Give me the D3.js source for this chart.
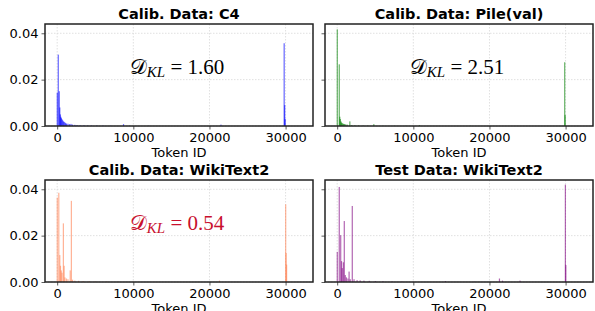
<!DOCTYPE html>
<html>
<head>
<meta charset="utf-8">
<script src="https://cdn.jsdelivr.net/npm/d3@7"></script>
<style>
  body { margin: 0; background: #fff; }
  svg { display: block; font-family: "DejaVu Sans", sans-serif; }
  .grid line { stroke: #d8d8d8; stroke-dasharray: 1.5,1.5; stroke-width: 0.8; }
  .tick text { font-size: 13px; fill: #000; }
</style>
</head>
<body>
<svg width="595" height="311"></svg>
<script>
// token id / frequency pairs
const c4Bins = [
  [0, 0.0144], [130, 0.0308], [260, 0.015], [330, 0.008], [400, 0.005], [460, 0.004],
  [520, 0.0035], [600, 0.003], [700, 0.0025], [800, 0.002], [900, 0.0018], [1000, 0.0015],
  [1100, 0.0012], [1200, 0.001], [1400, 0.001], [1600, 0.0008], [1800, 0.0009], [2000, 0.0006],
  [2300, 0.0005], [2600, 0.0004], [3000, 0.0003], [3500, 0.0003], [4000, 0.0002], [4500, 0.0002],
  [5200, 0.0002], [6000, 0.00015], [7000, 0.0001], [8700, 0.0008], [9500, 0.0001], [12000, 0.0001],
  [21500, 0.0006], [29800, 0.0357], [29870, 0.009], [29930, 0.003]
];
const pileBins = [
  [0, 0.0417], [260, 0.0266], [330, 0.004], [400, 0.003], [480, 0.002], [560, 0.0015],
  [650, 0.0012], [750, 0.001], [850, 0.0009], [950, 0.0008], [1100, 0.0007], [1300, 0.0006],
  [1650, 0.002], [1900, 0.0004], [2300, 0.0003], [2800, 0.0002], [3400, 0.0002], [4000, 0.00015],
  [4800, 0.0008], [6000, 0.0001], [7500, 0.0001], [9000, 0.0001], [10800, 0.0004], [17500, 0.0001],
  [29870, 0.0275], [29930, 0.0047]
];
const wikiCalibBins = [
  [0, 0.0364], [200, 0.0385], [330, 0.0116], [420, 0.007], [520, 0.005], [620, 0.004],
  [800, 0.0253], [900, 0.007], [1000, 0.002], [1200, 0.0015], [1400, 0.0012], [1700, 0.005],
  [1850, 0.035], [2000, 0.001], [2300, 0.0006], [2800, 0.0005], [3400, 0.0004], [4200, 0.0003],
  [5000, 0.0002], [6500, 0.0002], [8000, 0.0001], [10000, 0.0001], [21300, 0.0006],
  [30000, 0.0335], [30060, 0.0125], [30120, 0.0075]
];
const wikiTestBins = [
  [0, 0.013], [260, 0.041], [450, 0.0202], [560, 0.009], [650, 0.006], [800, 0.0085],
  [920, 0.0263], [1050, 0.003], [1200, 0.002], [1400, 0.0015], [1550, 0.0045], [1700, 0.0012],
  [1970, 0.0328], [2200, 0.0012], [2600, 0.0008], [3000, 0.0007], [3500, 0.0006], [4200, 0.0005],
  [5000, 0.0004], [6000, 0.0003], [7200, 0.0002], [8500, 0.0002], [10000, 0.0001], [14200, 0.0004],
  [18000, 0.0001], [21300, 0.0015], [21700, 0.0006], [24000, 0.0006], [29960, 0.042], [30020, 0.0073]
];

const panelTitles = ["Calib. Data: C4", "Calib. Data: Pile(val)", "Calib. Data: WikiText2", "Test Data: WikiText2"];
const panelColors = ["#0000ff", "#008000", "#ff7f50", "#800080"];
const klValues = ["1.60", "2.51", "0.54", null];
const klColors = ["#000", "#000", "#c8102e", null];
const xTicks = [0, 10000, 20000, 30000];
const yTicks = [0, 0.02, 0.04];

const allBins = [c4Bins, pileBins, wikiCalibBins, wikiTestBins];

const svg = d3.select("svg");
const boxes = [
  {x0: 45, x1: 313, y0: 24, y1: 126},
  {x0: 325, x1: 593, y0: 24, y1: 126},
  {x0: 45, x1: 313, y0: 180, y1: 282},
  {x0: 325, x1: 593, y0: 180, y1: 282}
];

boxes.forEach(function(b, i) {
  const x = d3.scaleLinear().domain([-1600, 33600]).range([b.x0, b.x1]);
  const y = d3.scaleLinear().domain([0, 0.044]).range([b.y1, b.y0]);
  const g = svg.append("g");

  // grid
  g.append("g").attr("class", "grid")
    .selectAll("line.v").data(xTicks).enter().append("line")
    .attr("x1", d => x(d)).attr("x2", d => x(d)).attr("y1", b.y0).attr("y2", b.y1);
  g.append("g").attr("class", "grid")
    .selectAll("line.h").data(yTicks).enter().append("line")
    .attr("x1", b.x0).attr("x2", b.x1).attr("y1", d => y(d)).attr("y2", d => y(d));

  // bars
  g.append("g").selectAll("rect").data(allBins[i]).enter().append("rect")
    .attr("x", d => x(d[0]) - 0.5)
    .attr("width", 1.2)
    .attr("y", d => y(d[1]))
    .attr("height", d => y(0) - y(d[1]))
    .attr("fill", panelColors[i])
    .attr("fill-opacity", 0.6);

  // axes
  const xAxis = d3.axisBottom(x).tickValues(xTicks).tickFormat(d3.format("d")).tickSize(3.5).tickPadding(3);
  const yAxis = d3.axisLeft(y).tickValues(yTicks).tickSize(3.5).tickPadding(3)
    .tickFormat(i % 2 === 0 ? d3.format(".2f") : () => "");
  const xa = g.append("g").attr("transform", "translate(0," + b.y1 + ")").call(xAxis);
  const ya = g.append("g").attr("transform", "translate(" + b.x0 + ",0)").call(yAxis);
  [xa, ya].forEach(a => {
    a.select(".domain").remove();
    a.selectAll(".tick line").attr("stroke", "#333").attr("stroke-width", 0.8);
    a.selectAll(".tick text").style("font-family", "DejaVu Sans");
  });

  // frame
  g.append("rect")
    .attr("x", b.x0).attr("y", b.y0)
    .attr("width", b.x1 - b.x0).attr("height", b.y1 - b.y0)
    .attr("fill", "none").attr("stroke", "#222").attr("stroke-width", 1.5);

  // title
  g.append("text")
    .attr("x", (b.x0 + b.x1) / 2).attr("y", b.y0 - 5)
    .attr("text-anchor", "middle")
    .style("font-size", "14.5px").style("font-weight", "bold")
    .text(panelTitles[i]);

  // x label
  g.append("text")
    .attr("x", (b.x0 + b.x1) / 2).attr("y", b.y1 + 31)
    .attr("text-anchor", "middle")
    .style("font-size", "13px")
    .text("Token ID");

  // KL annotation
  if (klValues[i]) {
    const t = g.append("text")
      .attr("x", b.x0 + 132).attr("y", b.y0 + 50)
      .attr("text-anchor", "middle")
      .style("font-family", "'Liberation Serif', serif")
      .style("font-size", "21px")
      .attr("fill", klColors[i]);
    t.append("tspan").text("\uD835\uDC9F");
    t.append("tspan").attr("dy", 3).style("font-size", "15px").style("font-style", "italic").text("KL");
    t.append("tspan").attr("dy", -3).text(" = " + klValues[i]);
  }
});
</script>
</body>
</html>
